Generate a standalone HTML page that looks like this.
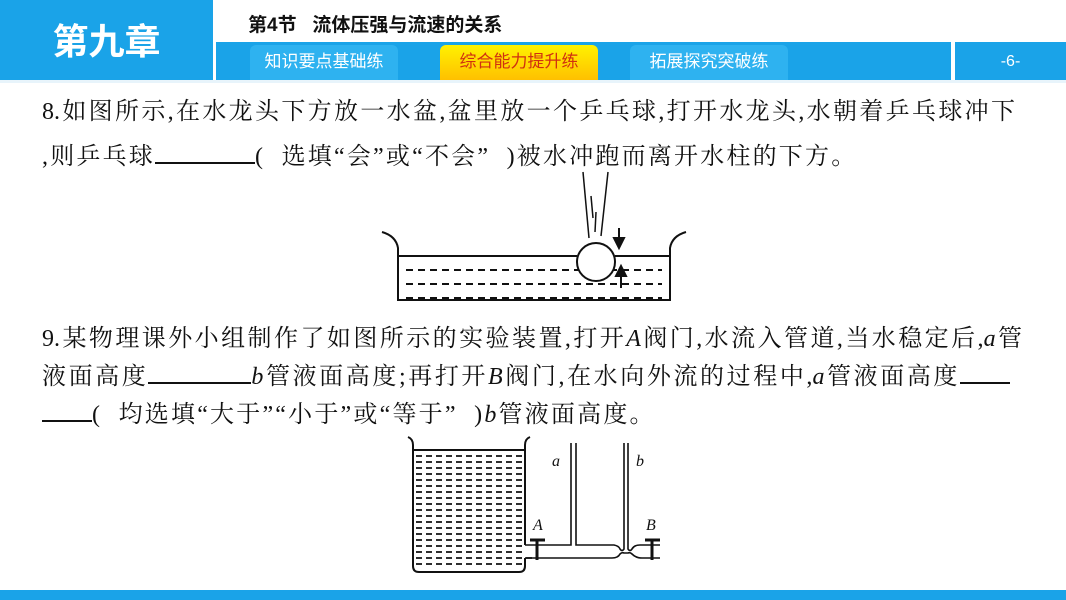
<!DOCTYPE html>
<html><head><meta charset="utf-8"><style>
body{margin:0;width:1066px;height:600px;position:relative;background:#fff;overflow:hidden;font-family:"Liberation Serif","Noto Serif CJK SC",serif;}
.abs{position:absolute;}
.ln{position:absolute;left:42px;font-size:24px;white-space:nowrap;line-height:30px;letter-spacing:2.2px;color:#111;}
.j{text-align:justify;text-align-last:justify;letter-spacing:0;}
.u{display:inline-block;border-bottom:2px solid #111;height:22px;vertical-align:baseline;}
i{font-style:italic;}
.tab{position:absolute;top:45px;height:35px;border-radius:6px 6px 0 0;font:17px "Liberation Sans","Noto Sans CJK SC",sans-serif;text-align:center;line-height:34px;color:#fff;background:#2eb2f0;}
</style></head><body>
<div class="abs" style="left:0;top:0;width:213px;height:80px;background:#1aa3e8;color:#fff;font:bold 36px 'Liberation Sans','Noto Sans CJK SC',sans-serif;line-height:84px;text-align:center;">第九章</div>
<div class="abs" style="left:248px;top:10px;font:bold 19px 'Liberation Sans','Noto Sans CJK SC',sans-serif;color:#111;">第4节&nbsp;&nbsp;&nbsp;流体压强与流速的关系</div>
<div class="abs" style="left:216px;top:42px;width:735px;height:38px;background:#1aa3e8;"></div>
<div class="abs" style="left:955px;top:42px;width:111px;height:38px;background:#1aa3e8;color:#fff;font:16px 'Liberation Sans',sans-serif;line-height:40px;text-align:center;">-6-</div>
<div class="tab" style="left:250px;width:148px;">知识要点基础练</div>
<div class="tab" style="left:440px;width:158px;background:linear-gradient(#fff200,#ffc000);color:#d03010;">综合能力提升练</div>
<div class="tab" style="left:630px;width:158px;">拓展探究突破练</div>
<div class="abs" style="left:0;top:80px;width:1066px;height:3px;background:#e8f4fb;"></div>
<div class="abs" style="left:0;top:590px;width:1066px;height:10px;background:#1aa3e8;"></div>

<div class="ln j" style="top:97px;width:973px;">8.如图所示,在水龙头下方放一水盆,盆里放一个乒乓球,打开水龙头,水朝着乒乓球冲下</div>
<div class="ln" style="top:140px;">,则乒乓球<span class="u" style="width:100px"></span>(&nbsp; 选填“会”或“不会”&nbsp; )被水冲跑而离开水柱的下方。</div>

<div class="ln j" style="top:324px;width:980px;">9.某物理课外小组制作了如图所示的实验装置,打开<i>A</i>阀门,水流入管道,当水稳定后,<i>a</i>管</div>
<div class="ln j" style="top:360px;width:968px;">液面高度<span class="u" style="width:103px"></span><i>b</i>管液面高度;再打开<i>B</i>阀门,在水向外流的过程中,<i>a</i>管液面高度<span class="u" style="width:50px"></span></div>
<div class="ln" style="top:398px;"><span class="u" style="width:50px"></span>(&nbsp; 均选填“大于”“小于”或“等于”&nbsp; )<i>b</i>管液面高度。</div>

<svg class="abs" style="left:0;top:0" width="1066" height="600" fill="none" stroke="#111" stroke-width="2">
<!-- diagram 1 -->
<path d="M382 232 Q396 236 398 248 V300 H670 V248 Q672 236 686 232"/>
<line x1="398" y1="256" x2="577" y2="256"/><line x1="615" y1="256" x2="670" y2="256"/>
<g stroke-dasharray="7,5"><line x1="406" y1="270" x2="662" y2="270"/><line x1="406" y1="284" x2="662" y2="284"/><line x1="406" y1="298" x2="662" y2="298"/></g>
<circle cx="596" cy="262" r="19" fill="#fff"/>
<line x1="583" y1="172" x2="589" y2="238" stroke-width="1.5"/><line x1="608" y1="172" x2="601" y2="236" stroke-width="1.5"/>
<line x1="591" y1="196" x2="593" y2="218" stroke-width="1.5"/><line x1="596" y1="212" x2="595" y2="232" stroke-width="1.5"/>
<line x1="619" y1="228" x2="619" y2="244"/><path d="M614 238 L619 248 L624 238Z" fill="#111"/>
<line x1="621" y1="288" x2="621" y2="272"/><path d="M616 276 L621 266 L626 276Z" fill="#111"/>
<!-- diagram 2 -->
<path d="M408 437 Q413 439 413 445 V566 Q413 572 419 572 H519 Q525 572 525 566 V558 M525 545 V445 Q525 439 530 437"/>
<line x1="413" y1="450" x2="525" y2="450"/>
<g stroke-dasharray="6,4" stroke-width="1.8">
<line x1="416" y1="456" x2="522" y2="456"/><line x1="416" y1="462" x2="522" y2="462"/><line x1="416" y1="468" x2="522" y2="468"/><line x1="416" y1="474" x2="522" y2="474"/><line x1="416" y1="480" x2="522" y2="480"/><line x1="416" y1="486" x2="522" y2="486"/><line x1="416" y1="492" x2="522" y2="492"/><line x1="416" y1="498" x2="522" y2="498"/><line x1="416" y1="504" x2="522" y2="504"/><line x1="416" y1="510" x2="522" y2="510"/><line x1="416" y1="516" x2="522" y2="516"/><line x1="416" y1="522" x2="522" y2="522"/><line x1="416" y1="528" x2="522" y2="528"/><line x1="416" y1="534" x2="522" y2="534"/><line x1="416" y1="540" x2="522" y2="540"/><line x1="416" y1="546" x2="522" y2="546"/><line x1="416" y1="552" x2="522" y2="552"/><line x1="416" y1="558" x2="534" y2="558"/><line x1="416" y1="564" x2="522" y2="564"/>
</g>
<path d="M525 545 H571 V443 M576 443 V545 H614 Q619 546 620 549 Q622 552 624 549 V443 M628 443 V549 Q630 552 632 549 Q634 545 640 545 H660" stroke-width="1.6"/>
<path d="M525 558 H612 Q618 558 620 554 Q622 552 624 553 H628 Q630 552 632 554 Q636 558 642 558 H660" stroke-width="1.6"/>
<line x1="530" y1="540" x2="545" y2="540" stroke-width="3"/><line x1="537" y1="540" x2="537" y2="560" stroke-width="3"/>
<line x1="645" y1="540" x2="660" y2="540" stroke-width="3"/><line x1="652" y1="540" x2="652" y2="560" stroke-width="3"/>
<g stroke="none" fill="#111" font-family="Liberation Serif" font-style="italic" font-size="16">
<text x="552" y="466">a</text><text x="636" y="466">b</text><text x="533" y="530">A</text><text x="646" y="530">B</text>
</g>
</svg>
</body></html>
